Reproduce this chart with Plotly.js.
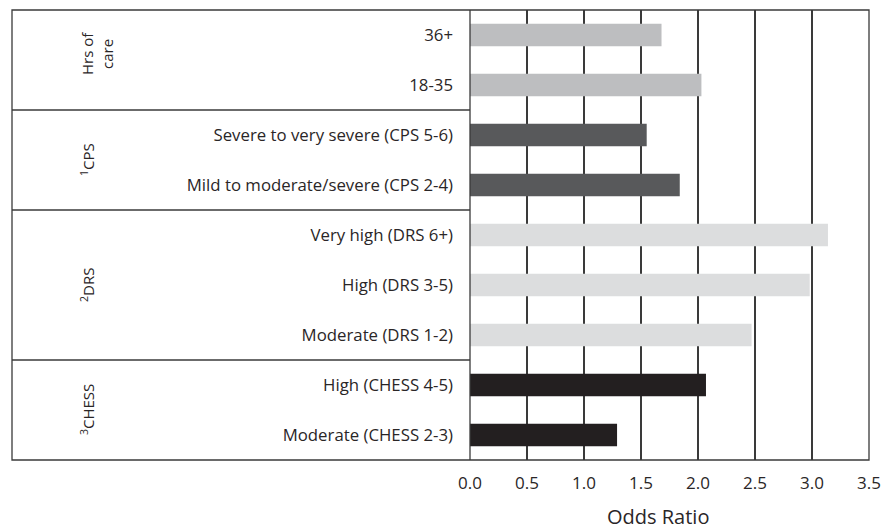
<!DOCTYPE html>
<html>
<head>
<meta charset="utf-8">
<script src="https://cdn.plot.ly/plotly-3.0.1.min.js"></script>
<style>html,body{margin:0;padding:0;background:#fff;}#chart{width:885px;height:529px;}</style>
</head>
<body>
<div id="chart"></div>
<script>
const categories = [
  "36+", "18-35",
  "Severe to very severe (CPS 5-6)", "Mild to moderate/severe (CPS 2-4)",
  "Very high (DRS 6+)", "High (DRS 3-5)", "Moderate (DRS 1-2)",
  "High (CHESS 4-5)", "Moderate (CHESS 2-3)"
];
const oddsRatios = [1.68, 2.03, 1.55, 1.84, 3.14, 2.98, 2.47, 2.07, 1.29];
const groupOf = ["hrs", "hrs", "cps", "cps", "drs", "drs", "drs", "chess", "chess"];
const groupNames = ["hrs", "cps", "drs", "chess"];
const groupLabelLines = [["Hrs of", "care"], ["<sup>1</sup>CPS"], ["<sup>2</sup>DRS"], ["<sup>3</sup>CHESS"]];
const groupColors = {hrs: "#bdbec0", cps: "#58595b", drs: "#dcddde", chess: "#231f20"};
const xTicks = [0, 0.5, 1, 1.5, 2, 2.5, 3, 3.5];
const xTitle = "Odds Ratio";

const font = "'Open Sans', 'Noto Sans', sans-serif";
const ink = "#3a3a3a";
const txt = "#2a2627";

const groupIdx = groupNames.map(g => {
  const idx = groupOf.map((v, i) => v === g ? i : -1).filter(i => i >= 0);
  return {first: idx[0], last: idx[idx.length - 1]};
});

// pixel helpers for the 399x450 plot area placed at (470,10)
const px = v => (v - 470) / 399;
const py = v => (460 - v) / 450;

const leftEdge = px(12);
const shapes = [];
shapes.push({type: "rect", xref: "paper", yref: "paper", x0: leftEdge, x1: 1, y0: 0, y1: 1,
  line: {color: ink, width: 1.3}, layer: "above"});
groupIdx.slice(0, -1).forEach(g => {
  shapes.push({type: "line", xref: "paper", yref: "y", x0: leftEdge, x1: 0, y0: g.last + 0.5, y1: g.last + 0.5,
    line: {color: ink, width: 1.3}, layer: "above"});
});
shapes.push({type: "line", xref: "paper", yref: "paper", x0: 0, x1: 0, y0: 0, y1: 1, line: {color: ink, width: 1.3}, layer: "above"});

const annotations = [];
const lineX = {1: [87], 2: [87, 107]};
const yShift = {hrs: -0.12, cps: 0, drs: 0, chess: 0};
groupNames.forEach((g, k) => {
  const span = groupIdx[k];
  const yc = (span.first + span.last) / 2 + yShift[g];
  const lines = groupLabelLines[k];
  lines.forEach((t, j) => {
    annotations.push({xref: "paper", yref: "y", x: px(lineX[lines.length][j]), y: yc, text: t, showarrow: false,
      textangle: -90, font: {family: font, size: 15, color: txt}, xanchor: "center", yanchor: "middle"});
  });
});
annotations.push({xref: "paper", yref: "paper", x: px(657.5), y: py(516), text: xTitle, showarrow: false,
  font: {family: font, size: 20, color: txt}, xanchor: "center", yanchor: "middle"});

const trace = {
  type: "bar", orientation: "h",
  y: categories, x: oddsRatios,
  marker: {color: groupOf.map(g => groupColors[g]), line: {width: 0}},
  width: 0.45, hoverinfo: "none"
};

const layout = {
  width: 885, height: 529,
  margin: {l: 470, r: 16, t: 10, b: 69, pad: 0},
  paper_bgcolor: "#fff", plot_bgcolor: "#fff",
  showlegend: false,
  font: {family: font, size: 16, color: txt},
  xaxis: {
    range: [0, 3.5], tickvals: xTicks, tickformat: ".1f",
    showgrid: true, gridcolor: ink, gridwidth: 1.2, zeroline: false,
    showline: false, ticks: "", ticklabelstandoff: 11,
    tickfont: {family: font, size: 17, color: txt},
    fixedrange: true
  },
  yaxis: {
    type: "category", autorange: false, range: [8.5, -0.5],
    showgrid: false, zeroline: false, showline: false, ticks: "",
    ticklabelstandoff: 16,
    tickfont: {family: font, size: 16.8, color: txt},
    fixedrange: true
  },
  shapes: shapes,
  annotations: annotations,
  bargap: 0.55
};

Plotly.newPlot("chart", [trace], layout, {displayModeBar: false, staticPlot: true});
</script>
</body>
</html>
